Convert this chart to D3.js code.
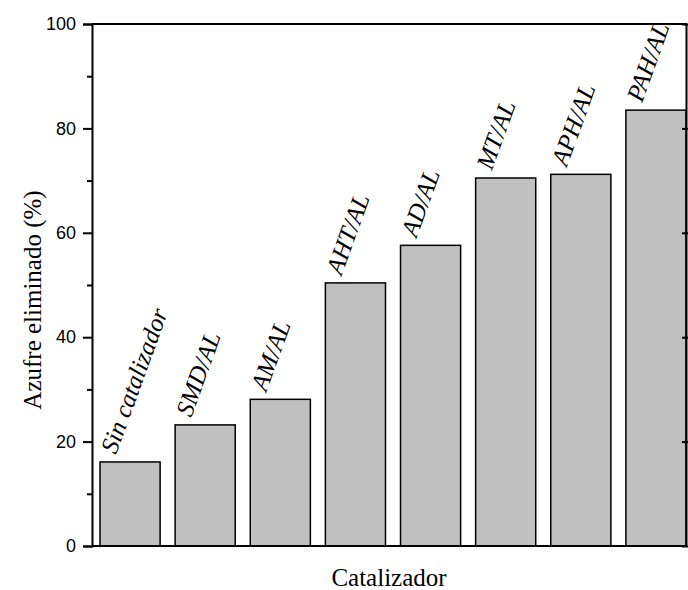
<!DOCTYPE html>
<html><head><meta charset="utf-8">
<script src="https://cdn.jsdelivr.net/npm/d3@7"></script>
<style>body{margin:0;background:#fff}</style>
</head><body>
<svg id="c" width="688" height="590"></svg>
<script>
const categories = ["Sin catalizador","SMD/AL","AM/AL","AHT/AL","AD/AL","MT/AL","APH/AL","PAH/AL"];
const values = [16.1, 23.2, 28.1, 50.4, 57.6, 70.5, 71.2, 83.5];
const majorTicks = [0,20,40,60,80,100];
const minorTicks = [10,30,50,70,90];

const svg = d3.select("#c");
const L = 92, R = 686, T = 24, B = 546;
const x = d3.scaleBand().domain(categories).range([100, R]).paddingInner(0.2).paddingOuter(0);
const y = d3.scaleLinear().domain([0,100]).range([B, T]);

// bars
svg.append("g").selectAll("rect").data(values).join("rect")
  .attr("x",(d,i)=>x(categories[i]))
  .attr("y",d=>y(d))
  .attr("width",x.bandwidth())
  .attr("height",d=>B-y(d))
  .attr("fill","#c0c0c0").attr("stroke","#000").attr("stroke-width",1.5);

// bar labels
svg.append("g").selectAll("text").data(values).join("text")
  .attr("transform",(d,i)=>`translate(${x(categories[i])+x.bandwidth()/2-14},${y(d)-7}) rotate(-70)`)
  .attr("font-family","'Liberation Serif','Times New Roman',serif")
  .attr("font-style","italic").attr("font-size",25).attr("fill","#000")
  .text((d,i)=>categories[i]);

// left axis
const gl = svg.append("g").attr("transform",`translate(${L},0)`)
  .call(d3.axisLeft(y).tickValues(majorTicks).tickSize(9).tickPadding(7).tickFormat(d3.format("d")));
gl.selectAll("text").attr("font-family","'Liberation Sans',Arial,sans-serif").attr("font-size",18).attr("fill","#000");
svg.append("g").attr("transform",`translate(${L},0)`)
  .call(d3.axisLeft(y).tickValues(minorTicks).tickSize(5).tickFormat(""))
  .select(".domain").remove();

// right axis
const gr = svg.append("g").attr("transform",`translate(${R},0)`)
  .call(d3.axisLeft(y).tickValues(majorTicks).tickSize(5).tickSizeOuter(0).tickFormat(""));
gr.selectAll(".tick line").attr("x2",-4).attr("x1",2);

// top and bottom
svg.append("line").attr("x1",L).attr("x2",R+1).attr("y1",T).attr("y2",T);
svg.append("line").attr("x1",L).attr("x2",R+1).attr("y1",B).attr("y2",B);
svg.selectAll("line").attr("stroke","#000").attr("stroke-width",2);
svg.selectAll(".domain").attr("stroke","#000").attr("stroke-width",2);

// titles
svg.append("text").attr("transform","translate(41,300) rotate(-90)")
  .attr("text-anchor","middle")
  .attr("font-family","'Liberation Serif','Times New Roman',serif").attr("font-size",25)
  .text("Azufre eliminado (%)");
svg.append("text").attr("x",389).attr("y",586).attr("text-anchor","middle")
  .attr("font-family","'Liberation Serif','Times New Roman',serif").attr("font-size",25)
  .text("Catalizador");
</script>
</body></html>
